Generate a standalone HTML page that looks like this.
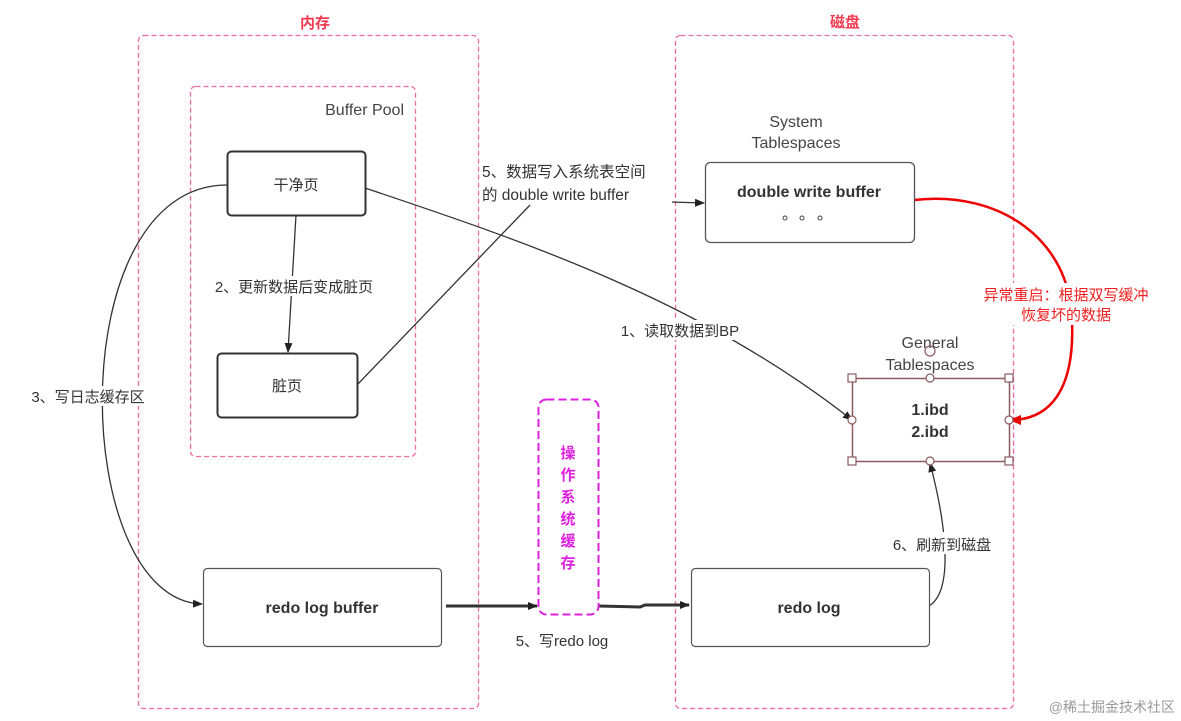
<!DOCTYPE html>
<html><head><meta charset="utf-8"><style>
html,body{margin:0;padding:0;background:#fff;width:1181px;height:721px;overflow:hidden}
text{font-family:"Liberation Sans","Noto Sans CJK SC",sans-serif}
</style></head><body>
<svg width="1181" height="721" viewBox="0 0 1181 721" xmlns="http://www.w3.org/2000/svg">
<defs>
<marker id="a" markerWidth="10" markerHeight="10" refX="9" refY="5" orient="auto" markerUnits="userSpaceOnUse"><path d="M0,1 L10,5 L0,9 Z" fill="#222"/></marker>
<marker id="ar" markerWidth="12" markerHeight="12" refX="11" refY="6" orient="auto" markerUnits="userSpaceOnUse"><path d="M0,1 L12,6 L0,11 Z" fill="#e00"/></marker>
</defs>
<rect x="0" y="0" width="1181" height="721" fill="#fff"/>
<rect x="138.5" y="35.5" width="340" height="673" rx="5" fill="none" stroke="#f06aa0" stroke-width="1.3" stroke-dasharray="5,3"/>
<rect x="190.5" y="86.5" width="225" height="370" rx="5" fill="none" stroke="#f06aa0" stroke-width="1.3" stroke-dasharray="5,3"/>
<rect x="675.5" y="35.5" width="338" height="673" rx="5" fill="none" stroke="#f06aa0" stroke-width="1.3" stroke-dasharray="5,3"/>
<text x="315" y="28" font-size="15" font-weight="bold" fill="#f2394f" text-anchor="middle">内存</text>
<text x="845" y="27" font-size="15" font-weight="bold" fill="#f2394f" text-anchor="middle">磁盘</text>
<text x="404" y="115" font-size="16" fill="#444" text-anchor="end">Buffer Pool</text>
<path d="M365,188 C520,240 700,300 852,420" fill="none" stroke="#333" stroke-width="1.3" marker-end="url(#a)"/>
<path d="M357,385 L530,205" fill="none" stroke="#333" stroke-width="1.3"/>
<path d="M670,202 L704,203" fill="none" stroke="#333" stroke-width="1.3" marker-end="url(#a)"/>
<path d="M296,215 L288,352" fill="none" stroke="#333" stroke-width="1.3" marker-end="url(#a)"/>
<path d="M227,185 C60,185 70,600 202,604" fill="none" stroke="#333" stroke-width="1.3" marker-end="url(#a)"/>
<path d="M446,606 L537,606" fill="none" stroke="#333" stroke-width="3" marker-end="url(#a)"/>
<path d="M598,606 L640,607 L645,605 L689,605" fill="none" stroke="#333" stroke-width="3" marker-end="url(#a)"/>
<path d="M929,606 C955,590 945,520 930,463" fill="none" stroke="#333" stroke-width="1.3" marker-end="url(#a)"/>
<path d="M914,200 C1000,190 1070,240 1072,320 C1075,390 1050,420 1010,420" fill="none" stroke="#e00" stroke-width="2.5" marker-end="url(#ar)"/>
<rect x="197" y="276" width="192" height="20" fill="#fff"/>
<text x="294" y="292" font-size="15" fill="#333" text-anchor="middle">2、更新数据后变成脏页</text>
<rect x="20" y="386" width="140" height="20" fill="#fff"/>
<text x="88" y="402" font-size="15" fill="#333" text-anchor="middle">3、写日志缓存区</text>
<rect x="605" y="320" width="145" height="20" fill="#fff"/>
<text x="680" y="336" font-size="15" fill="#333" text-anchor="middle">1、读取数据到BP</text>
<rect x="480" y="160" width="192" height="44" fill="#fff"/>
<text x="482" y="177" font-size="15.5" fill="#333">5、数据写入系统表空间</text>
<text x="482" y="200" font-size="15.5" fill="#333">的 double write buffer</text>
<rect x="963" y="283" width="205" height="42" fill="#fff"/>
<text x="1066" y="300" font-size="15" fill="#f02020" text-anchor="middle">异常重启：根据双写缓冲</text>
<text x="1066" y="320" font-size="15" fill="#f02020" text-anchor="middle">恢复坏的数据</text>
<rect x="888" y="532" width="108" height="22" fill="#fff"/>
<text x="942" y="550" font-size="15" fill="#333" text-anchor="middle">6、刷新到磁盘</text>
<text x="562" y="646" font-size="15" fill="#333" text-anchor="middle">5、写redo log</text>
<rect x="227.5" y="151.5" width="138" height="64" rx="4" fill="#fff" stroke="#333" stroke-width="2"/>
<text x="296" y="190" font-size="15" fill="#333" text-anchor="middle">干净页</text>
<rect x="217.5" y="353.5" width="140" height="64" rx="4" fill="#fff" stroke="#333" stroke-width="2"/>
<text x="287" y="391" font-size="15" fill="#333" text-anchor="middle">脏页</text>
<rect x="203.5" y="568.5" width="238" height="78" rx="4" fill="#fff" stroke="#555" stroke-width="1.2"/>
<text x="322" y="613" font-size="16" font-weight="bold" fill="#333" text-anchor="middle">redo log buffer</text>
<rect x="538.5" y="399.5" width="60" height="215" rx="8" fill="#fff" stroke="#e020e0" stroke-width="2" stroke-dasharray="8,4"/>
<g font-size="15" font-weight="bold" fill="#e020e0" text-anchor="middle">
<text x="568" y="458">操</text><text x="568" y="480">作</text><text x="568" y="502">系</text><text x="568" y="524">统</text><text x="568" y="546">缓</text><text x="568" y="568">存</text>
</g>
<rect x="691.5" y="568.5" width="238" height="78" rx="4" fill="#fff" stroke="#555" stroke-width="1.2"/>
<text x="809" y="613" font-size="16" font-weight="bold" fill="#333" text-anchor="middle">redo log</text>
<text x="796" y="127" font-size="16" fill="#444" text-anchor="middle">System</text>
<text x="796" y="148" font-size="16" fill="#444" text-anchor="middle">Tablespaces</text>
<rect x="705.5" y="162.5" width="209" height="80" rx="5" fill="#fff" stroke="#555" stroke-width="1.3"/>
<text x="809" y="197" font-size="16" font-weight="bold" fill="#333" text-anchor="middle">double write buffer</text>
<circle cx="785" cy="218" r="2" fill="none" stroke="#444"/><circle cx="802" cy="218" r="2" fill="none" stroke="#444"/><circle cx="820" cy="218" r="2" fill="none" stroke="#444"/>
<text x="930" y="348" font-size="16" fill="#444" text-anchor="middle">General</text>
<text x="930" y="370" font-size="16" fill="#444" text-anchor="middle">Tablespaces</text>
<rect x="852.5" y="378.5" width="157" height="83" fill="#fff" stroke="#8a5a60" stroke-width="1.5"/>
<text x="930" y="415" font-size="16" font-weight="bold" fill="#333" text-anchor="middle">1.ibd</text>
<text x="930" y="437" font-size="16" font-weight="bold" fill="#333" text-anchor="middle">2.ibd</text>
<g fill="#fff" stroke="#8a5a60" stroke-width="1.2">
<rect x="848" y="374" width="8" height="8"/><rect x="1005" y="374" width="8" height="8"/><rect x="848" y="457" width="8" height="8"/><rect x="1005" y="457" width="8" height="8"/>
<circle cx="930" cy="378" r="4"/><circle cx="930" cy="461" r="4"/><circle cx="852" cy="420" r="4"/><circle cx="1009" cy="420" r="4"/>
<circle cx="930" cy="351" r="5" fill="none"/>
</g>
<text x="1175" y="712" font-size="14" fill="#999" text-anchor="end">@稀土掘金技术社区</text>
</svg>
</body></html>
